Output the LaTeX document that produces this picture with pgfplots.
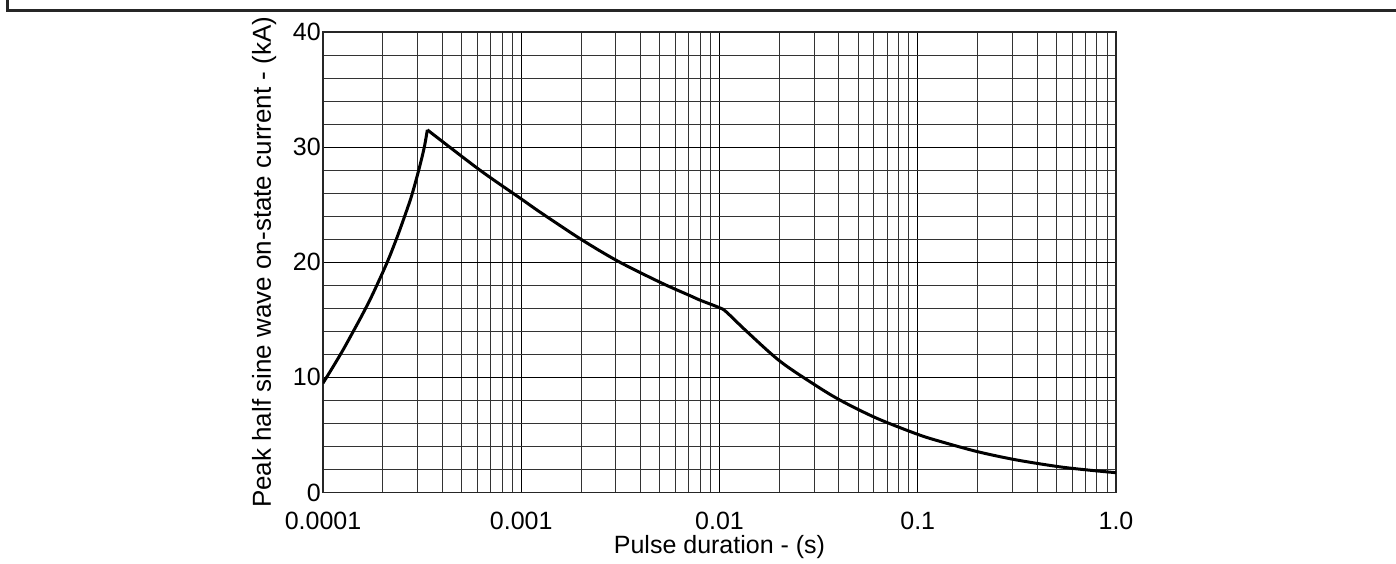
\documentclass[border=0pt]{standalone}
\usepackage{fontspec}
\setmainfont{Liberation Sans}
\usepackage{pgfplots}
\pgfplotsset{compat=1.18}
\begin{document}
\begin{tikzpicture}[x=1pt,y=1pt]
\path[use as bounding box] (0,0) rectangle (1396,563);
\draw[line width=3pt, black!85] (7,563) -- (7,552.5) -- (1396,552.5);
\begin{axis}[
  at={(323pt,70.5pt)}, anchor=south west,
  scale only axis, width=793pt, height=460.5pt,
  xmode=log, xmin=1e-4, xmax=1, ymin=0, ymax=40,
  xtick={1e-4,1e-3,1e-2,1e-1,1}, xticklabels={0.0001,0.001,0.01,0.1,1.0},
  ytick={0,10,20,30,40}, minor ytick={2,4,...,38},
  grid=both,
  major grid style={black, line width=1.1pt},
  minor grid style={black!80, line width=0.85pt},
  axis line style={black!85, line width=1.3pt},
  major tick length=0pt, minor tick length=0pt,
  tick label style={font=\fontsize{25}{30}\selectfont},
  /pgf/number format/assume math mode=true,
  xticklabel style={anchor=north, inner sep=0pt, yshift=-19pt},
  yticklabel style={anchor=east, inner sep=0pt, xshift=-2pt},
  xlabel={Pulse duration - (s)},
  ylabel={Peak half sine wave on-state current - (kA)},
  every axis x label/.style={at={(axis description cs:0.5,-0.1335)}, anchor=base, font=\fontsize{25}{30}\selectfont},
  every axis y label/.style={at={(axis description cs:-0.0656,0.5)}, anchor=base, rotate=90, font=\fontsize{26}{30}\selectfont},
]
\addplot[black, line width=3pt, smooth, tension=0.5] coordinates {
(1.0e-4,9.5) (1.122e-4,10.9) (1.259e-4,12.35) (1.422e-4,14.0) (1.585e-4,15.5)
(1.778e-4,17.2) (2.096e-4,19.9) (2.344e-4,22.0) (2.570e-4,23.9) (2.802e-4,25.8)
(3.062e-4,28.2) (3.244e-4,30.0) (3.36e-4,31.5)
};
\addplot[black, line width=3pt, smooth, tension=0.5, line join=round] coordinates {
(3.36e-4,31.5)
(6.19e-4,28.0) (1.0e-3,25.5) (1.245e-3,24.35) (2.0e-3,22.0) (3.09e-3,20.07)
(5.1e-3,18.2) (7.1e-3,17.1) (8.0e-3,16.7) (1.0e-2,16.05) (1.08e-2,15.7)
(1.37e-2,14.0) (2.02e-2,11.4) (3.09e-2,9.25) (4.13e-2,7.95) (6.21e-2,6.45)
(0.1,5.05) (0.129,4.45) (0.2,3.55) (0.31,2.85)
(0.51,2.25) (0.724,1.95) (1.0,1.72)
};
\end{axis}
\end{tikzpicture}
\end{document}
